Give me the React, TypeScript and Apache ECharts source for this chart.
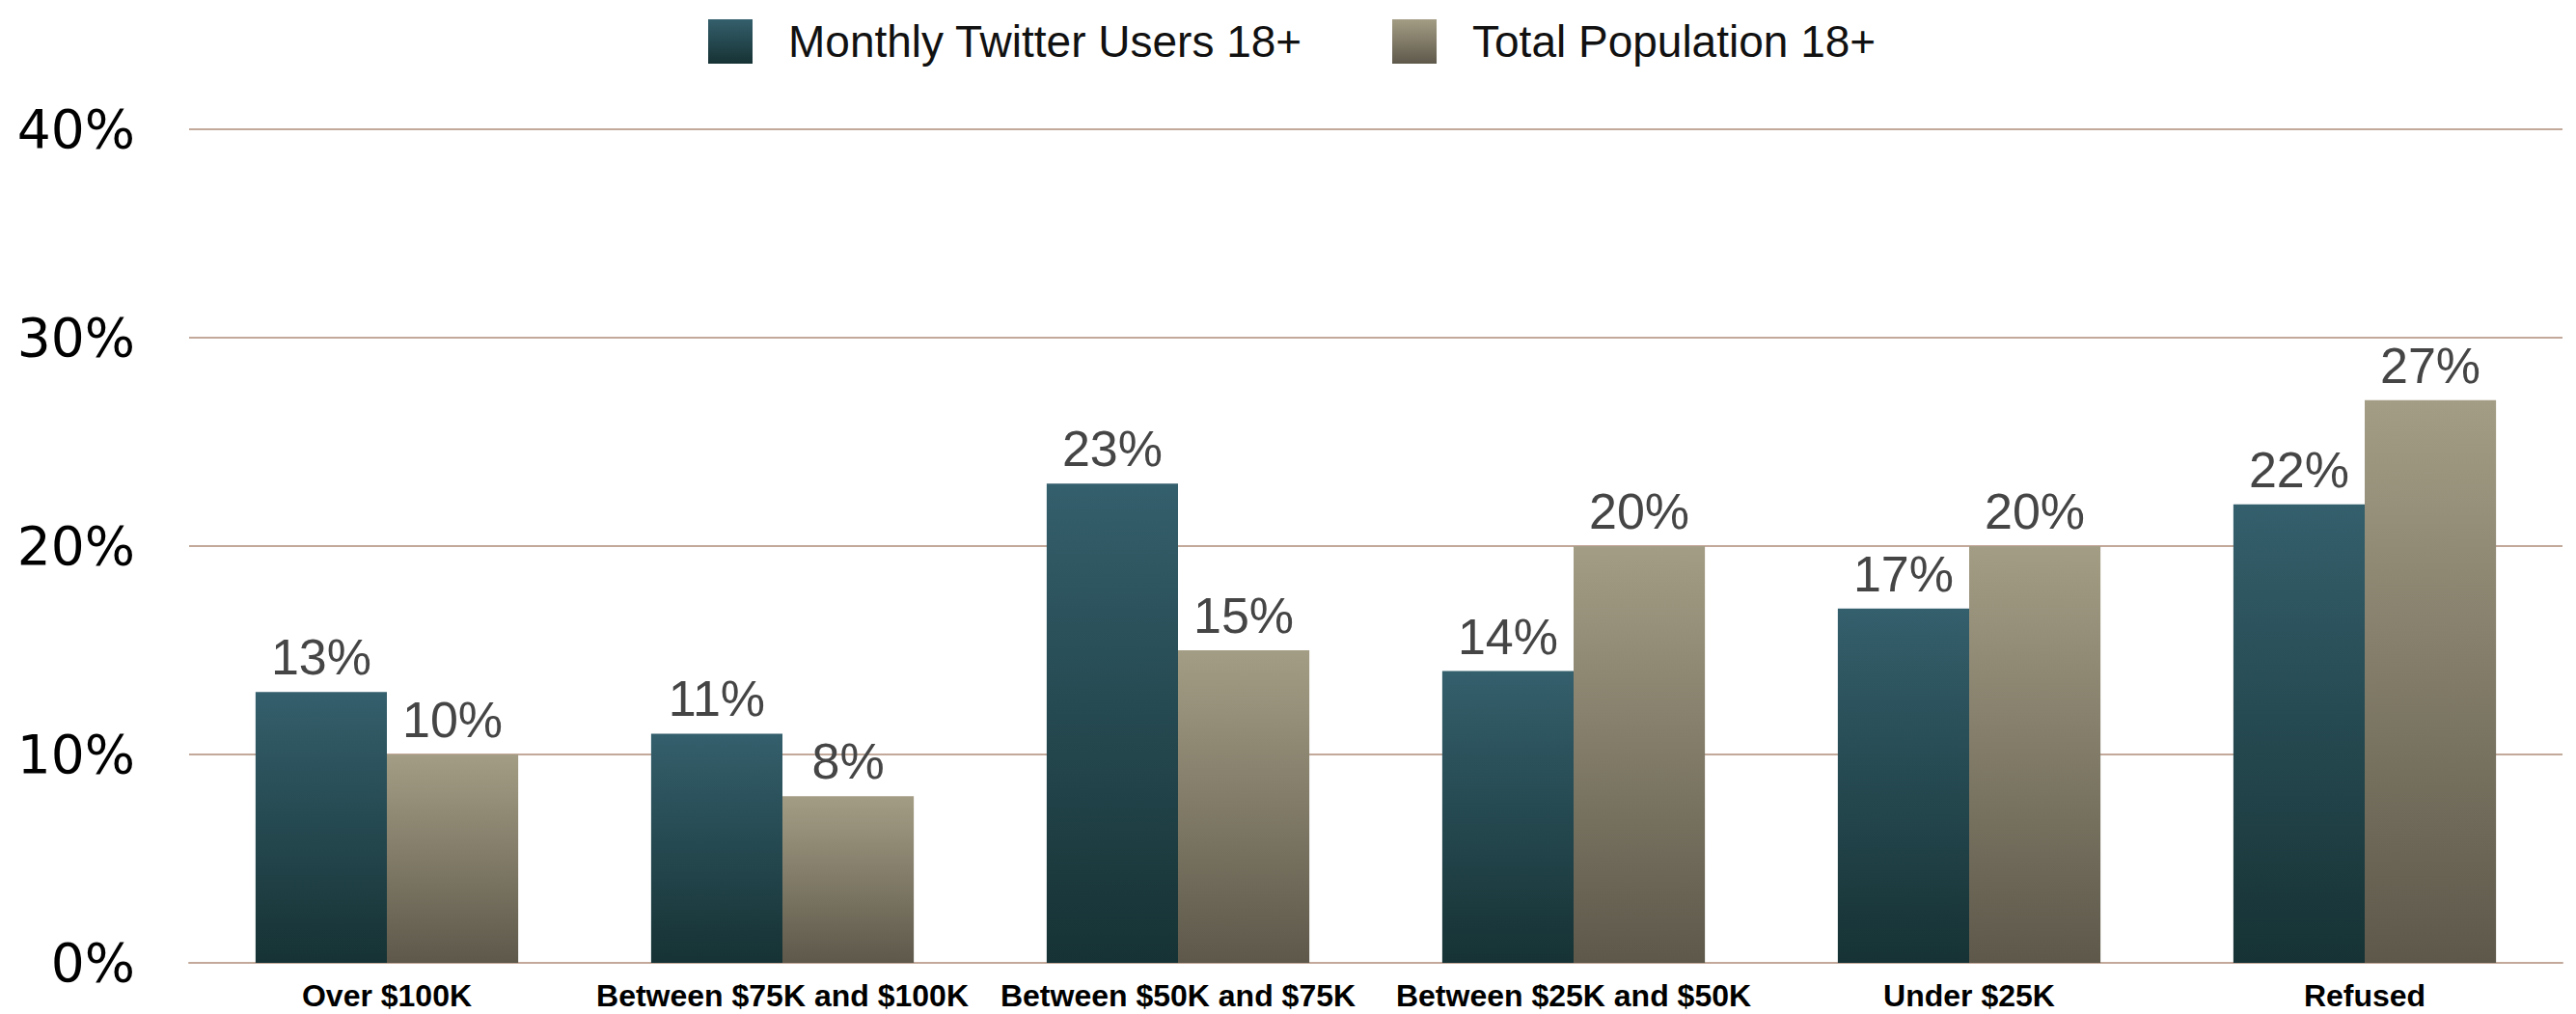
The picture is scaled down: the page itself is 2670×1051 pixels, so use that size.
import React, { useEffect, useRef } from "react";
import * as echarts from "echarts";

const categories = [
  "Over $100K",
  "Between $75K and $100K",
  "Between $50K and $75K",
  "Between $25K and $50K",
  "Under $25K",
  "Refused",
];
const twitterUsers = [13, 11, 23, 14, 17, 22];
const totalPopulation = [10, 8, 15, 20, 20, 27];
const seriesNames = ["Monthly Twitter Users 18+", "Total Population 18+"];

const tealGradient = new echarts.graphic.LinearGradient(0, 0, 0, 1, [
  { offset: 0, color: "#345f6c" },
  { offset: 1, color: "#163234" },
]);
const beigeGradient = new echarts.graphic.LinearGradient(0, 0, 0, 1, [
  { offset: 0, color: "#a49d85" },
  { offset: 1, color: "#5d584a" },
]);

const gridColor = "#c2a99a";

export default function App() {
  const ref = useRef<HTMLDivElement>(null);
  useEffect(() => {
    if (!ref.current) return;
    const chart = echarts.init(ref.current, null, { renderer: "svg" });
    const labelStyle = {
      show: true,
      position: "top" as const,
      distance: 10,
      fontFamily: "Liberation Sans",
      fontSize: 52,
      color: "#454545",
      formatter: (p: any) => `${p.value}%`,
    };
    chart.setOption({
      animation: false,
      backgroundColor: "#ffffff",
      legend: {
        left: 729,
        top: 15,
        itemWidth: 46,
        itemHeight: 46,
        itemGap: 93,
        icon: "rect",
        textStyle: {
          fontFamily: "Liberation Sans",
          fontSize: 46,
          color: "#111111",
          padding: [0, 0, 0, 32],
        },
        data: seriesNames,
      },
      grid: { left: 196, right: 14, top: 134, bottom: 53, containLabel: false },
      xAxis: {
        type: "category",
        data: categories,
        axisTick: { show: false },
        axisLine: { show: true, lineStyle: { color: gridColor, width: 2 } },
        axisLabel: {
          margin: 18,
          fontFamily: "Liberation Sans",
          fontWeight: "bold",
          fontSize: 32,
          lineHeight: 32,
          color: "#000000",
          interval: 0,
        },
      },
      yAxis: {
        type: "value",
        min: 0,
        max: 40,
        interval: 10,
        axisLine: { show: false },
        axisTick: { show: false },
        splitLine: { lineStyle: { color: gridColor, width: 2 } },
        axisLabel: {
          margin: 56,
          fontFamily: "DejaVu Sans",
          fontSize: 55,
          color: "#000000",
          formatter: "{value}%",
        },
      },
      series: [
        {
          name: seriesNames[0],
          type: "bar",
          data: twitterUsers,
          barGap: "0%",
          barCategoryGap: "33.6%",
          itemStyle: { color: tealGradient },
          label: labelStyle,
        },
        {
          name: seriesNames[1],
          type: "bar",
          data: totalPopulation,
          barGap: "0%",
          barCategoryGap: "33.6%",
          itemStyle: { color: beigeGradient },
          label: labelStyle,
        },
      ],
    });
    return () => chart.dispose();
  }, []);
  return (
    <div
      ref={ref}
      style={{ position: "absolute", left: 0, top: 0, width: 2670, height: 1051 }}
    />
  );
}
